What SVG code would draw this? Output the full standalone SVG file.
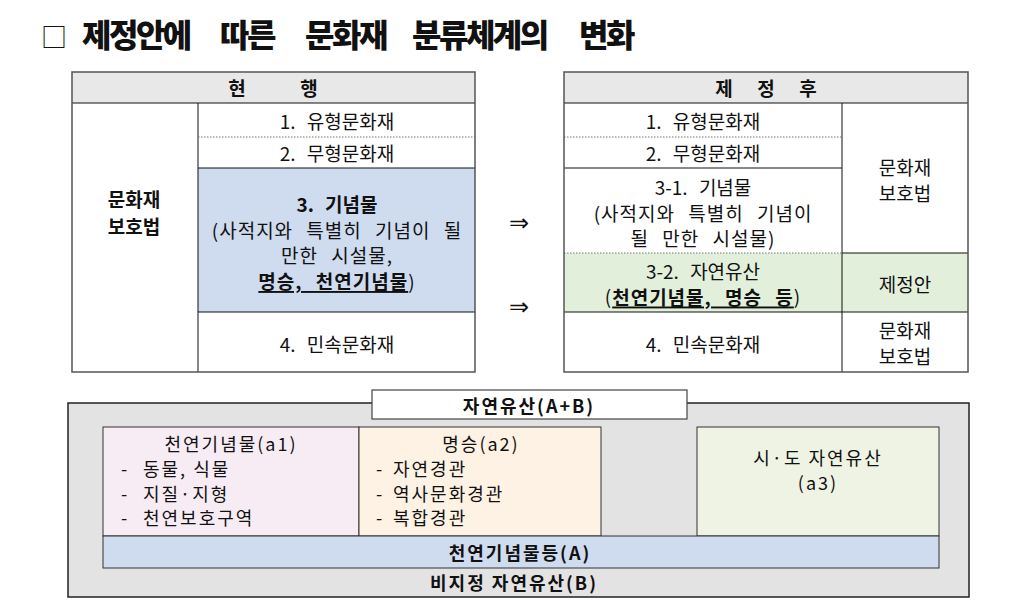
<svg xmlns="http://www.w3.org/2000/svg" width="1024" height="612" viewBox="0 0 1024 612">
<style>
text{font-family:"Noto Sans CJK KR","Noto Sans",sans-serif;fill:#111;}
.t{font-size:19px;text-anchor:middle;dominant-baseline:central;word-spacing:7px;}
.w{letter-spacing:1px;word-spacing:8px;}
.b{font-weight:700;}
.s{font-size:18px;dominant-baseline:central;letter-spacing:2px;}
.m{text-anchor:middle;}
.hdr{fill:#e8e8e8;}
.line{stroke:#111;stroke-width:1;fill:none;}
.dot{stroke:#777;stroke-width:1;stroke-dasharray:1.5 1.5;fill:none;}
.frame{stroke:#555;stroke-width:1.5;fill:none;}
.box{stroke:#333;stroke-width:1;}
.u{text-decoration:underline;}
.arr{font-family:"DejaVu Sans",sans-serif;font-size:24px;text-anchor:middle;dominant-baseline:central;}
</style>
<rect x="0" y="0" width="1024" height="612" fill="#ffffff"/>
<g id="title">
<text y="47" font-size="32" font-weight="900" letter-spacing="-2.5"><tspan x="41" font-weight="400" font-size="26" letter-spacing="0">□</tspan><tspan x="82">제정안에</tspan><tspan x="220">따른</tspan><tspan x="305">문화재</tspan><tspan x="412">분류체계의</tspan><tspan x="579">변화</tspan></text>
</g>
<g id="current-table">
<rect class="hdr" x="72" y="72" width="403" height="31"/>
<rect fill="#cfdbee" x="198" y="168" width="277" height="144"/>
<line class="line" x1="72" y1="103" x2="475" y2="103"/>
<line class="line" x1="198" y1="103" x2="198" y2="372"/>
<line class="dot" x1="198" y1="137" x2="475" y2="137"/>
<line class="line" x1="198" y1="168" x2="475" y2="168"/>
<line class="line" x1="198" y1="312" x2="475" y2="312"/>
<rect class="frame" x="72" y="72" width="403" height="300"/>
<text class="t b" x="237" y="87">현</text>
<text class="t b" x="309" y="87">행</text>
<text class="t b" x="134" y="198">문화재</text>
<text class="t b" x="134" y="225">보호법</text>
<text class="t" x="337" y="120">1. 유형문화재</text>
<text class="t" x="337" y="152">2. 무형문화재</text>
<text class="t b" x="337" y="203">3. 기념물</text>
<text class="t w" x="337" y="229">(사적지와 특별히 기념이 될</text>
<text class="t w" x="337" y="254">만한 시설물,</text>
<text class="t w" x="337" y="280"><tspan class="b u">명승, 천연기념물</tspan>)</text>
<text class="t" x="337" y="343">4. 민속문화재</text>
</g>
<g id="arrows">
<text class="arr" x="519" y="223">⇒</text>
<text class="arr" x="519" y="307">⇒</text>
</g>
<g id="new-table">
<rect class="hdr" x="564" y="72" width="404" height="31"/>
<rect fill="#e2efda" x="564" y="253" width="404" height="59"/>
<line class="line" x1="564" y1="103" x2="968" y2="103"/>
<line class="line" x1="842" y1="103" x2="842" y2="372"/>
<line class="dot" x1="564" y1="137" x2="842" y2="137"/>
<line class="line" x1="564" y1="168" x2="842" y2="168"/>
<line class="dot" x1="564" y1="253" x2="842" y2="253"/>
<line class="line" x1="842" y1="253" x2="968" y2="253"/>
<line class="line" x1="564" y1="312" x2="968" y2="312"/>
<rect class="frame" x="564" y="72" width="404" height="300"/>
<text class="t b" x="724" y="87">제</text>
<text class="t b" x="766" y="87">정</text>
<text class="t b" x="808" y="87">후</text>
<text class="t" x="703" y="120">1. 유형문화재</text>
<text class="t" x="703" y="152">2. 무형문화재</text>
<text class="t" x="703" y="186">3-1. 기념물</text>
<text class="t w" x="703" y="212">(사적지와 특별히 기념이</text>
<text class="t w" x="703" y="237">될 만한 시설물)</text>
<text class="t" x="703" y="270">3-2. 자연유산</text>
<text class="t w" x="703" y="295.5">(<tspan class="b u">천연기념물, 명승 등</tspan>)</text>
<text class="t" x="703" y="343">4. 민속문화재</text>
<text class="t" x="905" y="166">문화재</text>
<text class="t" x="905" y="192">보호법</text>
<text class="t" x="905" y="283">제정안</text>
<text class="t" x="905" y="329">문화재</text>
<text class="t" x="905" y="355">보호법</text>
</g>
<g id="natural-heritage">
<rect x="68" y="403" width="901" height="194" fill="#e3e3e3" stroke="#222" stroke-width="1.5"/>
<rect x="372" y="390" width="315" height="29" fill="#ffffff" stroke="#444" stroke-width="1.2"/>
<text class="s m b" x="529" y="405" font-size="19" letter-spacing="4">자연유산(A+B)</text>
</g>
<g id="a1">
<rect class="box" x="103" y="427" width="256" height="109" fill="#f8ecf4"/>
<text class="s m" x="231" y="443">천연기념물(a1)</text>
<text class="s" y="468"><tspan x="121">-</tspan><tspan x="143">동물, 식물</tspan></text>
<text class="s" y="493"><tspan x="121">-</tspan><tspan x="143">지질·지형</tspan></text>
<text class="s" y="517"><tspan x="121">-</tspan><tspan x="143">천연보호구역</tspan></text>
</g>
<g id="a2">
<rect class="box" x="359" y="427" width="242" height="109" fill="#fdf2e4"/>
<text class="s m" x="481" y="443">명승(a2)</text>
<text class="s" y="468"><tspan x="376">-</tspan><tspan x="393">자연경관</tspan></text>
<text class="s" y="493"><tspan x="376">-</tspan><tspan x="393">역사문화경관</tspan></text>
<text class="s" y="517"><tspan x="376">-</tspan><tspan x="393">복합경관</tspan></text>
</g>
<g id="a3">
<rect class="box" x="697" y="427" width="242" height="109" fill="#eef3e4"/>
<text class="s m" x="818" y="457" letter-spacing="1.5">시·도 자연유산</text>
<text class="s m" x="818" y="482">(a3)</text>
</g>
<g id="A">
<rect class="box" x="103" y="536" width="836" height="32" fill="#cfdbee"/>
<text class="s m b" x="520" y="552" letter-spacing="3">천연기념물등(A)</text>
</g>
<g id="B">
<text class="s m b" x="514" y="582" letter-spacing="3.5">비지정 자연유산(B)</text>
</g>
<g id="connectors"></g>
</svg>
